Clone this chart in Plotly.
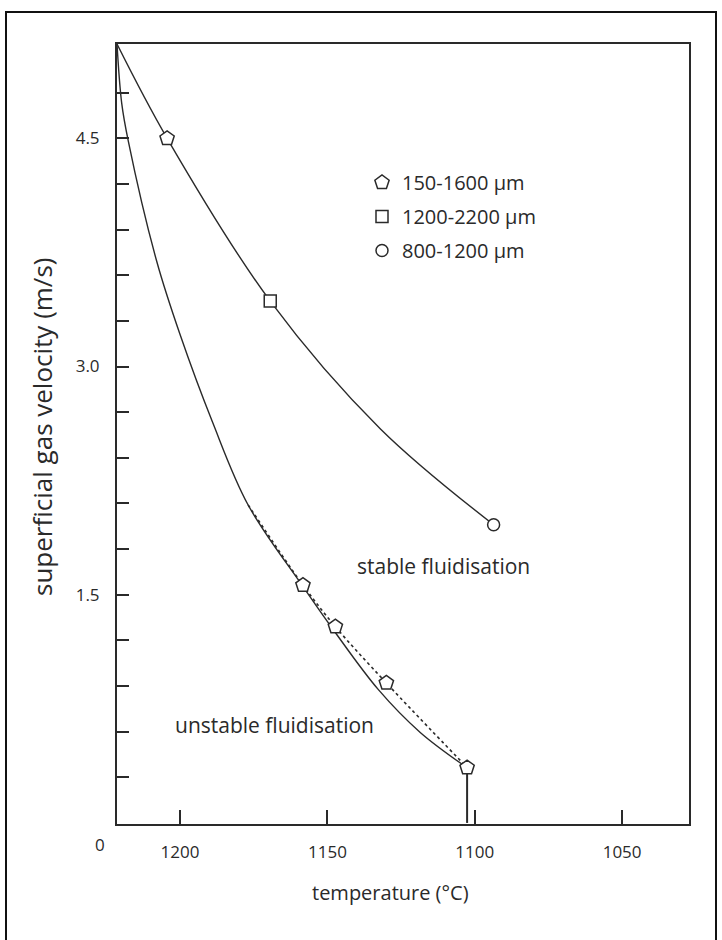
import plotly.graph_objects as go

# ---------------- data ----------------
# upper boundary curve (solid)
upper_T = [1221.4, 1204.4, 1169.4, 1132.0, 1093.6]
upper_v = [5.12, 4.50, 3.43, 2.59, 1.96]

# lower boundary curve (solid)
lower_T = [1221.4, 1219.8, 1217.6, 1207.9, 1200.0, 1189.1, 1176.9, 1158.5, 1148.0, 1132.7, 1118.5, 1102.8]
lower_v = [5.12, 4.73, 4.485, 3.69, 3.21, 2.64, 2.09, 1.56, 1.27, 0.876, 0.595, 0.366]

# dotted curve through the 150-1600 um points
dotted_T = [1176.9, 1158.3, 1147.3, 1130.0, 1102.6]
dotted_v = [2.09, 1.563, 1.29, 0.92, 0.364]

# measured points
pent_T = [1204.4, 1158.3, 1147.3, 1130.0, 1102.6]
pent_v = [4.50, 1.563, 1.29, 0.92, 0.364]
square_T = [1169.4]
square_v = [3.43]
circle_T = [1093.6]
circle_v = [1.96]

# vertical drop line at the last point
drop_T = [1102.6, 1102.6]
drop_v = [0.0, 0.364]

series_names = ["150-1600 \u03bcm", "1200-2200 \u03bcm", "800-1200 \u03bcm"]

x_tick_vals = [1200, 1150, 1100, 1050]
x_tick_text = ["1200", "1150", "1100", "1050"]
y_tick_vals = [0.3, 0.6, 0.9, 1.2, 1.5, 1.8, 2.1, 2.4, 2.7, 3.0, 3.3, 3.6, 3.9, 4.2, 4.5, 4.8]
y_tick_text = ["", "", "", "", "1.5", "", "", "", "", "3.0", "", "", "", "", "4.5", ""]

x_title = "temperature (\u00b0C)"
y_title = "superficial gas velocity (m/s)"
region_labels = ["stable fluidisation", "unstable fluidisation"]
region_T = [1110.6, 1168.1]
region_v = [1.69, 0.642]

# ---------------- figure ----------------
INK = "#2a2a2a"
FONT = "Open Sans"
W, H = 722, 940
L, R, T, B = 117, 33, 44, 116
pw, ph = W - L - R, H - T - B


def px2paper(x, y):
    return (x - L) / pw, (H - B - y) / ph


fig = go.Figure()

line_style = dict(color=INK, width=1.4)
fig.add_trace(go.Scatter(x=upper_T, y=upper_v, mode="lines", line=dict(**line_style, shape="spline"),
                         showlegend=False, hoverinfo="skip"))
fig.add_trace(go.Scatter(x=lower_T, y=lower_v, mode="lines", line=dict(**line_style, shape="spline"),
                         showlegend=False, hoverinfo="skip"))
fig.add_trace(go.Scatter(x=dotted_T, y=dotted_v, mode="lines",
                         line=dict(color=INK, width=1.6, dash="dot", shape="spline"),
                         showlegend=False, hoverinfo="skip"))
fig.add_trace(go.Scatter(x=drop_T, y=drop_v, mode="lines", line=dict(color=INK, width=2),
                         showlegend=False, hoverinfo="skip"))

mk_line = dict(color=INK, width=1.5)
fig.add_trace(go.Scatter(x=pent_T, y=pent_v, mode="markers", name=series_names[0], legendgroup="a",
                         marker=dict(symbol="pentagon", size=15, color="white", line=mk_line)))
fig.add_trace(go.Scatter(x=square_T, y=square_v, mode="markers", name=series_names[1], legendgroup="b",
                         marker=dict(symbol="square", size=12, color="white", line=mk_line)))
fig.add_trace(go.Scatter(x=circle_T, y=circle_v, mode="markers", name=series_names[2], legendgroup="c",
                         marker=dict(symbol="circle", size=12, color="white", line=mk_line)))

for txt, tx, ty in zip(region_labels, region_T, region_v):
    fig.add_annotation(x=tx, y=ty, text=txt, showarrow=False, xanchor="center", yanchor="middle",
                       font=dict(family=FONT, size=21, color=INK))

# axis titles and the lone "0"
ax, ay = px2paper(42, 427)
fig.add_annotation(xref="paper", yref="paper", x=ax, y=ay, text=y_title, textangle=-90, showarrow=False,
                   xanchor="center", yanchor="middle", font=dict(family=FONT, size=26, color=INK))
ax, ay = px2paper(390, 893)
fig.add_annotation(xref="paper", yref="paper", x=ax, y=ay, text=x_title, showarrow=False,
                   xanchor="center", yanchor="middle", font=dict(family=FONT, size=20, color=INK))
ax, ay = px2paper(100, 845)
fig.add_annotation(xref="paper", yref="paper", x=ax, y=ay, text="0", showarrow=False,
                   xanchor="center", yanchor="middle", font=dict(family=FONT, size=17, color=INK))

# outer frame
x0, y0 = px2paper(6, 12)
x1, y1 = px2paper(716, 941)
fig.add_shape(type="rect", xref="paper", yref="paper", x0=x0, y0=y1, x1=x1, y1=y0,
              line=dict(color="#111", width=2))

lx, ly = px2paper(362, 163)
fig.update_layout(
    width=W, height=H,
    margin=dict(l=L, r=R, t=T, b=B, pad=0),
    paper_bgcolor="white", plot_bgcolor="white",
    font=dict(family=FONT, color=INK),
    legend=dict(x=lx, y=ly, xanchor="left", yanchor="top", bgcolor="rgba(0,0,0,0)",
                font=dict(family=FONT, size=20, color=INK), tracegroupgap=5, traceorder="grouped"),
    xaxis=dict(range=[1221.4, 1027.3], tickmode="array", tickvals=x_tick_vals, ticktext=x_tick_text,
               ticks="inside", ticklen=14, tickwidth=2, tickcolor=INK, showline=True, linewidth=2,
               linecolor=INK, mirror=True, showgrid=False, zeroline=False, ticklabelstandoff=12,
               tickfont=dict(family=FONT, size=17, color=INK)),
    yaxis=dict(range=[-0.007, 5.12], tickmode="array", tickvals=y_tick_vals, ticktext=y_tick_text,
               ticks="inside", ticklen=12, tickwidth=2, tickcolor=INK, showline=True, linewidth=2,
               linecolor=INK, mirror=True, showgrid=False, zeroline=False, ticklabelstandoff=12,
               tickfont=dict(family=FONT, size=17, color=INK)),
)

fig.write_html("out.html", config={"displayModeBar": False},
               post_script="document.body.style.margin='0';document.body.style.padding='0';")
